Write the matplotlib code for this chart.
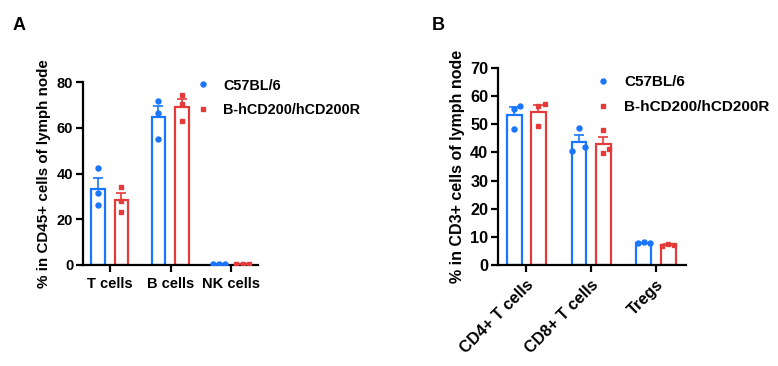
import numpy as np
import matplotlib
matplotlib.use("Agg")
import matplotlib.pyplot as plt

plt.rcParams['font.family'] = ['Liberation Sans', 'DejaVu Sans']
plt.rcParams['font.weight'] = 'bold'

groups = ['C57BL/6', 'B-hCD200/hCD200R']
colors = ['#1a75ff', '#e53a3a']
markers = ['o', 's']

# panel A: % in CD45+ cells
cats_a = ['T cells', 'B cells', 'NK cells']
wt_a = [[42.2, 31.3, 26.1], [71.9, 66.5, 55.2], [0.4, 0.4, 0.4]]
hu_a = [[33.9, 27.8, 23.1], [74.1, 70.6, 62.9], [0.5, 0.5, 0.5]]

# panel B: % in CD3+ cells
cats_b = ['CD4+ T cells', 'CD8+ T cells', 'Tregs']
wt_b = [[55.4, 56.5, 48.2], [48.7, 40.6, 41.9], [7.8, 8.0, 7.8]]
hu_b = [[56.5, 57.3, 49.3], [47.9, 39.8, 41.3], [6.6, 7.6, 7.1]]

# horizontal scatter of the dots (style only)
jit_a = [[[0, 0, 0], [0, 0, 0], [-0.105, 0, 0.105]],
         [[0, 0, 0], [0, 0, 0], [-0.105, 0, 0.105]]]
jit_b = [[[0, 0.097, 0], [0, -0.1, 0.1], [-0.09, 0, 0.09]],
         [[0, 0.1, 0], [0, 0, 0.085], [-0.1, 0, 0.09]]]

fig = plt.figure(figsize=(7.78, 3.66), dpi=100)


def panel(ax, cats, series, jit, ylim, yticks, ylabel, offs, width, rot, fs):
    x = np.arange(len(cats))
    for k, vals in enumerate(series):
        vals = np.array(vals)
        mean = vals.mean(axis=1)
        sem = vals.std(axis=1, ddof=1) / np.sqrt(vals.shape[1])
        xs = x + offs[k]
        ax.bar(xs, mean, width, facecolor='white', edgecolor=colors[k],
               linewidth=1.6, zorder=2)
        ax.errorbar(xs, mean, yerr=[np.zeros_like(sem), sem], fmt='none',
                    ecolor=colors[k], elinewidth=1.2, capsize=3.5, capthick=1.2,
                    zorder=3)
        for i in range(len(cats)):
            ax.plot(xs[i] + np.array(jit[k][i]), vals[i], markers[k],
                    color=colors[k], markersize=3.6 if k == 0 else 3.3,
                    zorder=4, linestyle='none')
        ax.plot([], [], markers[k], color=colors[k],
                markersize=3.6 if k == 0 else 3.3,
                label=groups[k], linestyle='none')
    ax.set_ylim(*ylim)
    ax.set_yticks(yticks)
    ax.set_xticks(x)
    if rot:
        ax.set_xticklabels(cats, rotation=45, ha='right', rotation_mode='anchor')
    else:
        ax.set_xticklabels(cats)
    ax.set_ylabel(ylabel, fontsize=fs[1], fontweight='bold')
    for s in ['top', 'right']:
        ax.spines[s].set_visible(False)
    for s in ['left', 'bottom']:
        ax.spines[s].set_linewidth(1.6)
    ax.tick_params(axis='both', width=1.6, length=5, labelsize=fs[0])
    ax.tick_params(axis='y', pad=2)
    ax.legend(loc='upper left', frameon=False, fontsize=fs[2],
              handletextpad=0.9, labelspacing=0.75, handlelength=1.0)


ax_a = fig.add_axes([83 / 778, 101 / 366, 175 / 778, 183 / 366])
panel(ax_a, cats_a, [wt_a, hu_a], jit_a, (0, 80), [0, 20, 40, 60, 80],
      '% in CD45+ cells of lymph node', [-0.2, 0.19], 0.22, False,
      (10.5, 10.9, 10.4))
ax_a.set_xlim(-0.446, 2.446)
ax_a.legend_.set_bbox_to_anchor((0.57, 1.09))

ax_b = fig.add_axes([498 / 778, 101 / 366, 188 / 778, 197 / 366])
panel(ax_b, cats_b, [wt_b, hu_b], jit_b, (0, 70), list(range(0, 71, 10)),
      '% in CD3+ cells of lymph node', [-0.185, 0.19], 0.23, True,
      (11.7, 11.5, 11.0))
ax_b.set_xlim(-0.432, 2.463)
ax_b.legend_.set_bbox_to_anchor((0.445, 1.035))

fig.text(13 / 778, 1 - 30 / 366, 'A', fontsize=13, fontweight='bold')
fig.text(432 / 778, 1 - 30 / 366, 'B', fontsize=13, fontweight='bold')

fig.savefig('out.png', dpi=100)
